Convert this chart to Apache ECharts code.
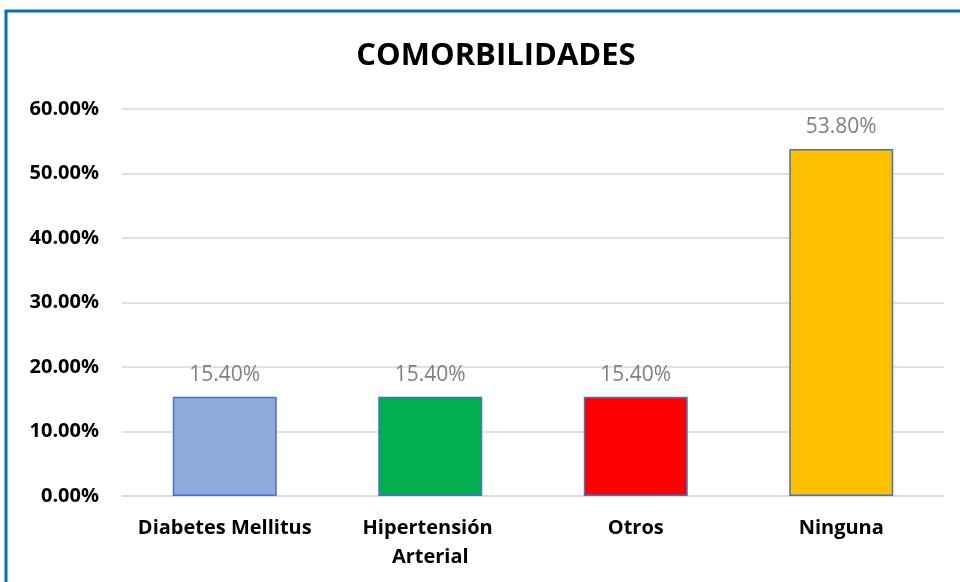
<!DOCTYPE html>
<html>
<head>
<meta charset="utf-8">
<script src="https://cdn.jsdelivr.net/npm/echarts@6/dist/echarts.min.js"></script>
<style>
  html, body { margin: 0; padding: 0; background: #fff; }
  #chart { width: 960px; height: 582px; }
</style>
</head>
<body>
<div id="chart"></div>
<script>
const categories = ["Diabetes Mellitus", "Hipertensión Arterial", "Otros", "Ninguna"];
const values = [15.4, 15.4, 15.4, 53.8];
const barColors = ["#8EA9DB", "#00B050", "#FF0000", "#FFC000"];

const chart = echarts.init(document.getElementById("chart"), null, { renderer: "canvas" });

chart.setOption({
  backgroundColor: "#fff",
  animation: false,
  title: {
    text: "COMORBILIDADES",
    left: 491,
    top: 36,
    textAlign: "center",
    textStyle: { fontFamily: "Open Sans", fontWeight: "bold", fontSize: 31, color: "#000" }
  },
  graphic: [{
    type: "rect",
    shape: { x: 6, y: 11, width: 1000, height: 1000 },
    style: { fill: "none", stroke: "#0070C0", lineWidth: 3 },
    z: 100
  }],
  grid: { left: 122, right: 16, top: 109, bottom: 86 },
  xAxis: {
    type: "category",
    data: categories,
    axisLine: { lineStyle: { color: "#d9d9d9", width: 1.5 } },
    axisTick: { show: false },
    axisLabel: {
      interval: 0,
      margin: 18,
      width: 190,
      overflow: "break",
      lineHeight: 29,
      fontFamily: "Open Sans",
      fontWeight: "bold",
      fontSize: 20,
      color: "#000"
    }
  },
  yAxis: {
    type: "value",
    min: 0,
    max: 60,
    interval: 10,
    axisLine: { show: false },
    axisTick: { show: false },
    splitLine: { lineStyle: { color: "#d9d9d9", width: 1.5 } },
    axisLabel: {
      margin: 23,
      formatter: v => v.toFixed(2) + "%",
      fontFamily: "Open Sans",
      fontWeight: "bold",
      fontSize: 20,
      color: "#000"
    }
  },
  series: [{
    type: "bar",
    barWidth: "50.6%",
    data: values.map((v, i) => ({
      value: v,
      itemStyle: { color: barColors[i] }
    })),
    itemStyle: { borderColor: "#4472C4", borderWidth: 1.5 },
    label: {
      show: true,
      position: "top",
      distance: 11,
      formatter: p => p.value.toFixed(2) + "%",
      fontFamily: "Open Sans",
      fontSize: 21,
      color: "#808080"
    }
  }]
});
</script>
</body>
</html>
